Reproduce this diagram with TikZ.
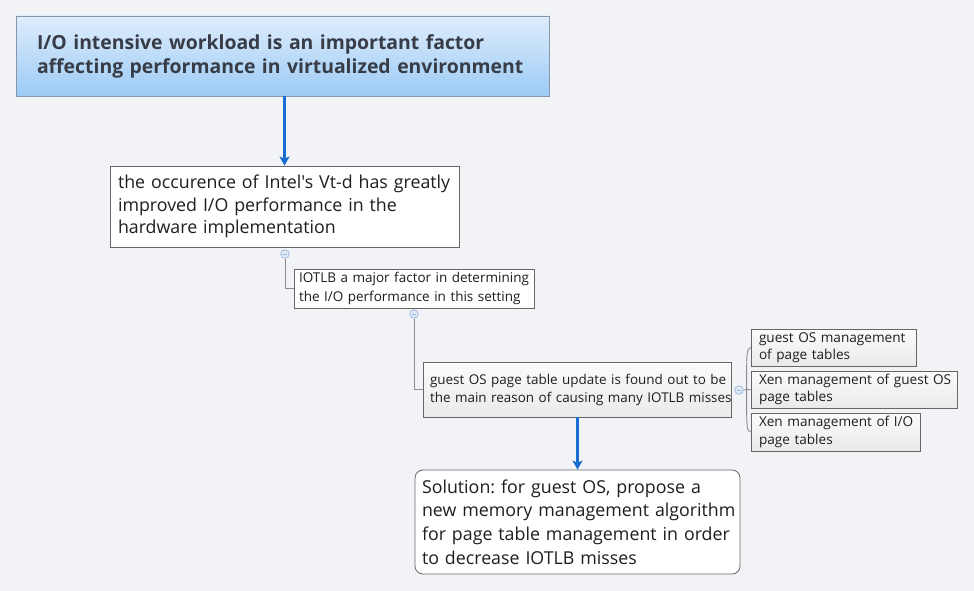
\documentclass[tikz,border=0pt]{standalone}
\usepackage{fontspec}
\setmainfont{Open Sans}[Ligatures=TeXOff]
\usetikzlibrary{arrows.meta,calc}
\definecolor{bg}{RGB}{242,243,247}
\definecolor{titletop}{RGB}{222,237,252}
\definecolor{titlebot}{RGB}{156,203,245}
\definecolor{titleborder}{RGB}{135,150,168}
\definecolor{txt}{RGB}{30,30,30}
\definecolor{titletxt}{RGB}{55,60,70}
\definecolor{arrblue}{RGB}{26,110,210}
\definecolor{conn}{RGB}{140,140,140}
\definecolor{togfill}{RGB}{222,234,248}
\definecolor{togdraw}{RGB}{150,182,218}
\definecolor{graytop}{RGB}{251,251,251}
\definecolor{graybot}{RGB}{234,234,234}
\newcommand{\myln}[1]{\mbox{#1}}
\tikzset{
  box/.style={draw=black!60, line width=0.8pt, align=left, anchor=center, inner ysep=0pt, text=txt},
  grayfill/.style={top color=graytop, bottom color=graybot},
  arr/.style={draw=arrblue, line width=2.6pt, -{Stealth[length=9pt,width=10pt,inset=2pt]}},
  connline/.style={draw=conn, line width=0.9pt},
  tog/.style={circle, draw=togdraw, fill=togfill, line width=0.7pt, minimum size=8.5pt, inner sep=0pt},
  childtxt/.style={font=\fontsize{13.6}{17.5}\selectfont},
}
\begin{document}
\frenchspacing
\begin{tikzpicture}[x=1pt,y=-1pt]
\fill[bg] (0,0) rectangle (974,591);
\useasboundingbox (0,0) rectangle (974,591);

% title
\node[box, draw=titleborder, top color=titletop, bottom color=titlebot, text=titletxt,
  minimum width=533pt, minimum height=80pt, text width=491pt, inner xsep=21pt,
  font=\fontsize{19.4}{24}\selectfont\bfseries] (t) at (282.5,56)
  {\myln{I/O intensive workload is an important factor}\\\myln{affecting performance in virtualized environment}};

\node[box, fill=white, font=\fontsize{17.8}{22.5}\selectfont, minimum width=349pt, minimum height=81pt, text width=333pt, inner xsep=8pt] (b2) at (284.5,206.5)
  {\myln{the occurence of Intel's Vt-d has greatly}\\\myln{improved I/O performance in the}\\\myln{hardware implementation}};

\node[box, fill=white, font=\fontsize{13.5}{18.5}\selectfont, minimum width=240pt, minimum height=39pt, text width=230pt, inner xsep=5pt] (b3) at (414,288.5)
  {\myln{IOTLB a major factor in determining}\\\myln{the I/O performance in this setting}};

\node[box, grayfill, font=\fontsize{13.45}{18}\selectfont, minimum width=308pt, minimum height=55pt, text width=294pt, inner xsep=7pt] (b4) at (577,389.5)
  {\myln{guest OS page table update is found out to be}\\\myln{the main reason of causing many IOTLB misses}};

\node[box, grayfill, childtxt, minimum width=165pt, minimum height=37pt, text width=149pt, inner xsep=8pt] (b5) at (833.5,347.5)
  {\myln{guest OS management}\\\myln{of page tables}};
\node[box, grayfill, childtxt, minimum width=206pt, minimum height=37pt, text width=190pt, inner xsep=8pt] (b6) at (854,389.5)
  {\myln{Xen management of guest OS}\\\myln{page tables}};
\node[box, grayfill, childtxt, minimum width=169pt, minimum height=38pt, text width=153pt, inner xsep=8pt] (b7) at (835.5,432)
  {\myln{Xen management of I/O}\\\myln{page tables}};

\node[box, fill=white, rounded corners=8pt, font=\fontsize{17.8}{23.6}\selectfont, minimum width=325pt, minimum height=104pt, text width=311pt, inner xsep=7pt] (b8) at (577.5,522)
  {\myln{Solution: for guest OS, propose a}\\\myln{new memory management algorithm}\\\myln{for page table management in order}\\\myln{to decrease IOTLB misses}};

% toggles
\node[tog] (c1) at (285,254) {};
\node[tog] (c2) at (414,314) {};
\node[tog] (c3) at (739,390) {};
\foreach \c in {c1,c2,c3}{
  \draw[togdraw, line width=0.8pt] ([xshift=-2.2pt]\c.center) -- ([xshift=2.2pt]\c.center);
}

% connectors
\draw[connline] (c1.south) |- (b3.west);
\draw[connline] (c2.south) |- (b4.west);
\coordinate (fork) at ($(c3.east)+(3,0)$);
\draw[connline] (c3.east) -- (b6.west);
\draw[connline] (fork) .. controls ($(fork)+(0,-40)$) .. (b5.west);
\draw[connline] (fork) .. controls ($(fork)+(0,40)$) .. (b7.west);

% arrows
\draw[arr] (b2.north |- t.south) -- (b2.north);
\draw[arr] (b4.south -| b8.north) -- (b8.north);
\end{tikzpicture}
\end{document}
